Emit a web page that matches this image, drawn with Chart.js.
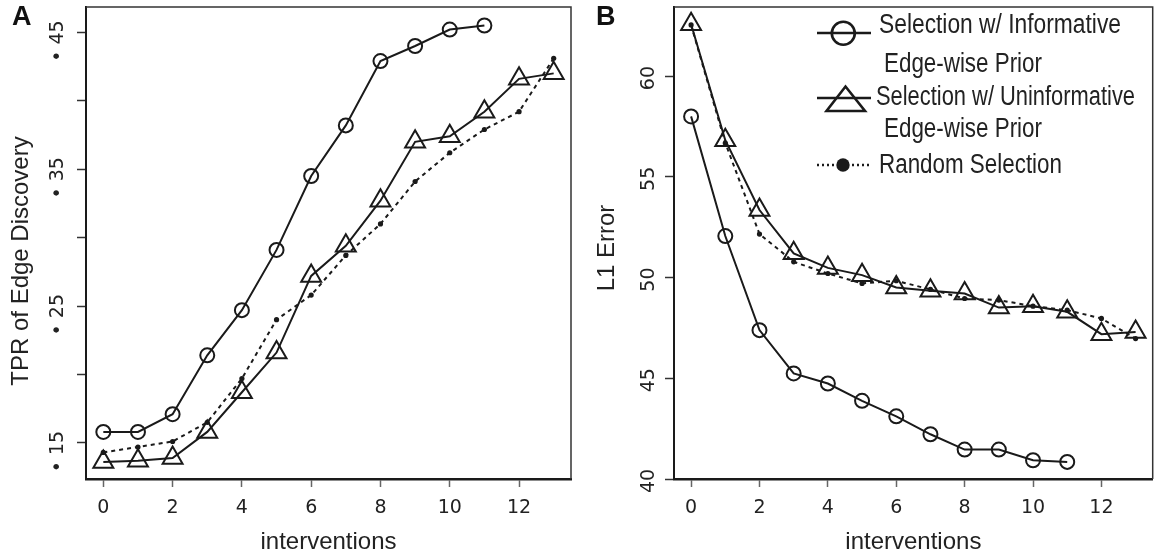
<!DOCTYPE html>
<html><head><meta charset="utf-8">
<script src="https://cdn.jsdelivr.net/npm/chart.js@4.4.1/dist/chart.umd.min.js"></script>
<style>
html,body{margin:0;padding:0;background:#fff;}
#wrap{position:relative;width:1157px;height:559px;overflow:hidden;background:#fff;}
canvas{position:absolute;top:0;}
#c1{left:0;}
#c2{left:588px;}
.lbl{position:absolute;top:1px;font:bold 27px "Liberation Sans",Arial,sans-serif;color:#111;}
</style></head><body>
<div id="wrap">
<canvas id="c1" width="600" height="559"></canvas>
<canvas id="c2" width="569" height="559"></canvas>
<div class="lbl" style="left:12px">A</div>
<div class="lbl" style="left:596px">B</div>
</div>
<script>
// ---- data ----
const interventions = [0,1,2,3,4,5,6,7,8,9,10,11,12,13];
const xTicks = [0,2,4,6,8,10,12];

const tprInformative   = [0.158,0.158,0.171,0.214,0.247,0.291,0.345,0.382,0.429,0.440,0.452,0.455];
const tprUninformative = [0.136,0.137,0.139,0.158,0.187,0.216,0.272,0.294,0.327,0.370,0.374,0.392,0.416,0.420];
const tprRandom        = [0.143,0.147,0.151,0.165,0.197,0.240,0.258,0.287,0.310,0.341,0.362,0.379,0.392,0.431];
const tprTicks      = [0.15,0.20,0.25,0.30,0.35,0.40,0.45];
const tprTickLabels = ['.15','','.25','','.35','','.45'];

const l1Informative   = [58.0,52.06,47.39,45.24,44.74,43.88,43.11,42.22,41.46,41.46,40.93,40.85];
const l1Uninformative = [62.57,56.82,53.35,51.2,50.48,50.12,49.51,49.34,49.21,48.51,48.58,48.30,47.19,47.30];
const l1Random        = [62.54,56.68,52.16,50.78,50.20,49.71,49.84,49.41,48.96,48.88,48.58,48.38,47.97,46.97];
const l1Ticks      = [40,45,50,55,60];
const l1TickLabels = ['40','45','50','55','60'];

const seriesNames = ['Selection w/ Informative', 'Edge-wise Prior', 'Selection w/ Uninformative', 'Edge-wise Prior', 'Random Selection'];

// ---- helpers ----
const INK = '#1a1a1a';
const TXT = '#222';
const pts = (arr) => arr.map((v,i) => ({x: interventions[i], y: v}));

function datasets(inf, uninf, rnd){
  return [
    {label:'Random Selection', data:pts(rnd), borderColor:INK, borderWidth:2, borderDash:[4,4],
     pointStyle:'circle', pointRadius:2.6, pointBackgroundColor:INK, pointBorderColor:INK, pointBorderWidth:0},
    {label:'Selection w/ Uninformative Edge-wise Prior', data:pts(uninf), borderColor:INK, borderWidth:2,
     pointStyle:'triangle', pointRadius:11.5, pointBackgroundColor:'rgba(0,0,0,0)', pointBorderColor:INK, pointBorderWidth:2},
    {label:'Selection w/ Informative Edge-wise Prior', data:pts(inf), borderColor:INK, borderWidth:2,
     pointStyle:'circle', pointRadius:7, pointBackgroundColor:'rgba(0,0,0,0)', pointBorderColor:INK, pointBorderWidth:2}
  ];
}

const boxPlugin = {
  id:'box',
  afterDraw(chart){
    const a = chart.chartArea, c = chart.ctx;
    c.save(); c.strokeStyle = '#333'; c.lineWidth = 1.5;
    c.beginPath(); c.moveTo(a.left, a.top); c.lineTo(a.right, a.top); c.lineTo(a.right, a.bottom); c.stroke();
    c.restore();
  }
};

function yLabelPlugin(opts){
  return {
    id:'ylabels',
    afterDraw(chart){
      const c = chart.ctx, s = chart.scales.y;
      c.save();
      c.fillStyle = TXT;
      c.font = '19px "DejaVu Sans", sans-serif';
      s.ticks.forEach((t, i) => {
        const txt = opts.labels[i];
        if (!txt) return;
        const py = s.getPixelForValue(t.value);
        c.save();
        c.translate(opts.labelX, py + opts.dy);
        c.rotate(-Math.PI/2);
        c.textBaseline = 'middle';
        c.textAlign = opts.align;
        c.fillText(opts.fmt(txt), 0, 0);
        c.restore();
      });
      // axis title
      c.font = '24px "Liberation Sans", Arial, sans-serif';
      c.save();
      c.translate(opts.titleX, opts.titleY);
      c.rotate(-Math.PI/2);
      c.textAlign = 'center'; c.textBaseline = 'middle';
      c.fillText(opts.title, 0, 0);
      c.restore();
      c.restore();
    }
  };
}

function xScale(){
  return {
    type:'linear', min:-0.5, max:13.5,
    afterBuildTicks: s => { s.ticks = xTicks.map(v => ({value:v})); },
    afterFit: s => { s.height = 80; },
    grid:{drawOnChartArea:false, drawTicks:true, tickLength:8, tickColor:'#666', tickWidth:1.5},
    border:{display:true, color:'#1a1a1a', width:2.5},
    ticks:{font:{family:'DejaVu Sans', size:19}, color:TXT, padding:10, maxRotation:0, minRotation:0, autoSkip:false,
           callback: v => String(v)},
    title:{display:true, text:'interventions', color:TXT, font:{family:'Liberation Sans', size:24}, padding:{top:0, bottom:2}}
  };
}

function yScale(min, max, ticks, width){
  return {
    type:'linear', min:min, max:max,
    afterBuildTicks: s => { s.ticks = ticks.map(v => ({value:v})); },
    afterFit: s => { s.width = width; },
    grid:{drawOnChartArea:false, drawTicks:true, tickLength:9, tickColor:'#333', tickWidth:1.5},
    border:{display:true, color:'#1a1a1a', width:2},
    ticks:{display:false}
  };
}

const common = {
  responsive:false, animation:false, devicePixelRatio:1,
  plugins:{legend:{display:false}, tooltip:{enabled:false}},
  elements:{line:{tension:0}}
};

// ---- chart A ----
new Chart(document.getElementById('c1'), {
  type:'line',
  data:{datasets:datasets(tprInformative, tprUninformative, tprRandom)},
  options:Object.assign({}, common, {
    layout:{autoPadding:false, padding:{top:7, right:29, left:0, bottom:0}},
    scales:{x:xScale(), y:yScale(0.1236, 0.4685, tprTicks, 86)}
  }),
  plugins:[boxPlugin, yLabelPlugin({labels:tprTickLabels, labelX:58, dy:-12, align:'right',
    fmt: t => t.replace('.', '\u2022 '), title:'TPR of Edge Discovery', titleX:21, titleY:261})]
});

// ---- legend for chart B ----
const legendPlugin = {
  id:'customLegend',
  afterDraw(chart){
    const c = chart.ctx, ox = 588;
    c.save();
    c.strokeStyle = INK; c.fillStyle = INK; c.lineWidth = 2.6;
    // row 1: circle
    c.beginPath(); c.moveTo(817-ox, 33); c.lineTo(871-ox, 33); c.stroke();
    c.beginPath(); c.arc(843.3-ox, 33.3, 11.5, 0, Math.PI*2); c.stroke();
    // row 2: triangle
    c.beginPath(); c.moveTo(817-ox, 98); c.lineTo(871-ox, 98); c.stroke();
    c.beginPath(); c.moveTo(845.5-ox, 86.5); c.lineTo(865-ox, 111); c.lineTo(826.5-ox, 111); c.closePath(); c.stroke();
    // row 3: dotted + dot
    c.save(); c.setLineDash([2,3]); c.lineWidth = 2.4;
    c.beginPath(); c.moveTo(817-ox, 165); c.lineTo(871-ox, 165); c.stroke(); c.restore();
    c.beginPath(); c.arc(843-ox, 165, 6.7, 0, Math.PI*2); c.fill();
    // texts
    c.font = '27px "Liberation Sans Narrow", "Liberation Sans", Arial, sans-serif';
    c.textBaseline = 'alphabetic'; c.textAlign = 'left';
    const rows = [[879,32.5,242],[884,72,158],[876,105,259],[884,137,158],[879,173,183]];
    seriesNames.forEach((t, i) => {
      const sx = rows[i][2] / c.measureText(t).width;
      c.save(); c.translate(rows[i][0]-ox, rows[i][1]); c.scale(sx, 1);
      c.fillStyle = TXT; c.fillText(t, 0, 0); c.restore();
    });
    c.restore();
  }
};

// ---- chart B ----
new Chart(document.getElementById('c2'), {
  type:'line',
  data:{datasets:datasets(l1Informative, l1Uninformative, l1Random)},
  options:Object.assign({}, common, {
    layout:{autoPadding:false, padding:{top:7, right:4.3, left:0, bottom:0}},
    scales:{x:xScale(), y:yScale(40, 63.43, l1Ticks, 86)}
  }),
  plugins:[boxPlugin, legendPlugin, yLabelPlugin({labels:l1TickLabels, labelX:61, dy:2, align:'center',
    fmt: t => t, title:'L1 Error', titleX:19, titleY:248})]
});
</script>
</body></html>
